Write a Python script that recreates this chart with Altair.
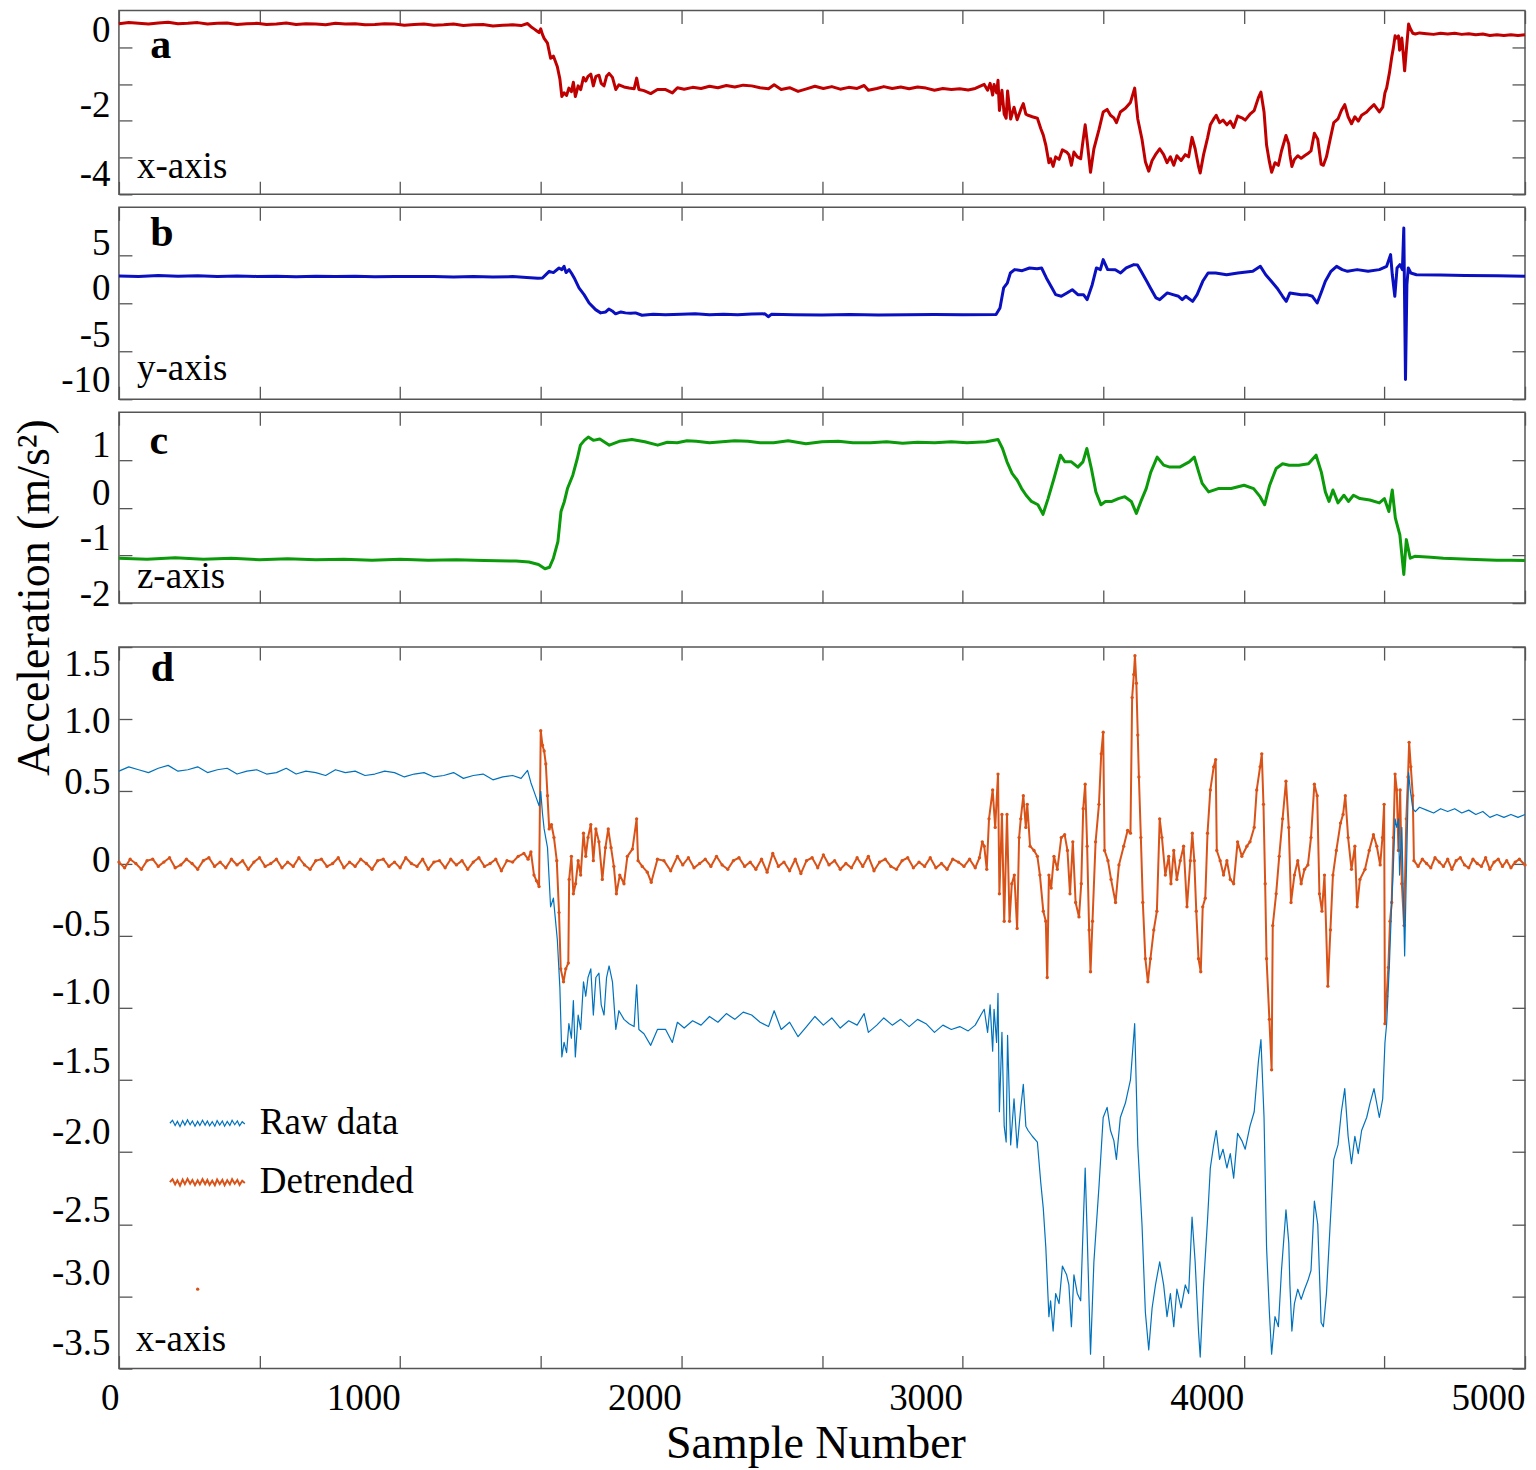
import altair as alt
import pandas as pd

FONT = "Liberation Serif"
W = 1407
TICK = "#555555"

# ---------------- data (sample number, acceleration) ----------------
RAW_X = [(0,0.64),(35,0.67),(70,0.65),(105,0.63),(140,0.66),(175,0.68),(210,0.64),(245,0.65),(280,0.67),(315,0.63),(350,0.65),(385,0.66),(420,0.62),(455,0.64),(490,0.65),(525,0.62),(560,0.63),(595,0.66),(630,0.62),(665,0.64),(700,0.63),(735,0.61),(770,0.65),(805,0.63),(840,0.64),(875,0.61),(910,0.62),(945,0.64),(980,0.63),(1015,0.60),(1050,0.62),(1085,0.63),(1120,0.60),(1155,0.61),(1190,0.63),(1225,0.59),(1260,0.61),(1295,0.62),(1330,0.58),(1365,0.60),(1400,0.61),(1430,0.59),(1453,0.645),(1465,0.56),(1476,0.50),(1485,0.45),(1494,0.40),(1500,0.50),(1506,0.35),(1512,0.24),(1524,0.11),(1535,-0.30),(1545,-0.24),(1559,-0.53),(1568,-0.86),(1575,-1.34),(1583,-1.24),(1592,-1.31),(1600,-1.11),(1609,-1.21),(1616,-0.95),(1623,-1.34),(1633,-1.05),(1642,-1.15),(1652,-0.82),(1660,-0.92),(1668,-0.79),(1678,-0.73),(1687,-1.05),(1696,-0.79),(1707,-0.76),(1715,-0.98),(1725,-1.05),(1734,-0.79),(1743,-0.71),(1755,-0.82),(1767,-1.15),(1778,-1.02),(1796,-1.08),(1814,-1.11),(1832,-1.13),(1841,-0.84),(1849,-1.15),(1867,-1.18),(1891,-1.26),(1915,-1.15),(1944,-1.15),(1968,-1.24),(1986,-1.10),
 (2010,-1.14),(2040,-1.09),(2070,-1.12),(2100,-1.06),(2130,-1.10),(2160,-1.04),(2190,-1.08),(2220,-1.03),(2250,-1.05),(2280,-1.10),(2310,-1.13),(2330,-1.02),(2355,-1.15),(2385,-1.10),(2415,-1.20),(2445,-1.13),(2475,-1.06),(2505,-1.12),(2535,-1.07),(2565,-1.14),(2595,-1.09),(2625,-1.12),(2650,-1.04),(2665,-1.17),(2695,-1.12),(2720,-1.07),(2750,-1.12),(2780,-1.08),(2810,-1.13),(2840,-1.08),(2870,-1.11),(2900,-1.17),(2930,-1.12),(2960,-1.15),(2990,-1.13),(3020,-1.16),(3045,-1.12),(3065,-1.05),
 (3077,-1.01),(3089,-1.17),(3098,-0.98),(3107,-1.30),(3112,-1.01),(3121,-1.24),(3126,-0.90),(3131,-1.72),(3140,-1.17),(3148,-1.82),(3155,-1.93),(3160,-1.19),(3171,-1.95),(3183,-1.63),(3194,-1.97),(3207,-1.69),(3216,-1.53),(3225,-1.82),(3233,-1.85),(3248,-1.89),(3266,-1.93),(3278,-2.21),(3287,-2.39),(3296,-2.66),(3307,-3.14),(3313,-3.03),(3322,-3.24),(3331,-2.98),(3343,-3.05),(3355,-2.79),(3370,-2.85),(3378,-2.92),(3387,-3.21),(3396,-2.85),(3408,-2.98),(3420,-3.03),(3428,-2.56),(3436,-2.11),(3443,-2.56),(3455,-3.40),(3467,-2.76),(3485,-2.24),(3500,-1.76),(3514,-1.69),(3526,-1.85),(3538,-1.92),(3547,-2.05),(3561,-1.76),(3579,-1.66),(3597,-1.50),(3612,-1.11),(3623,-1.95),(3638,-2.50),(3650,-3.11),(3662,-3.37),(3674,-3.08),(3686,-2.92),(3701,-2.76),(3715,-2.92),(3727,-3.14),(3739,-2.98),(3751,-3.21),(3762,-2.95),(3777,-3.08),(3792,-2.92),(3804,-2.98),(3816,-2.45),(3827,-2.76),(3839,-3.24),(3845,-3.42),(3857,-2.92),(3871,-2.47),(3881,-2.11),(3893,-1.95),(3902,-1.85),(3914,-2.05),(3926,-1.98),(3940,-2.11),(3952,-2.01),(3964,-2.18),(3978,-1.87),(3993,-1.92),(4005,-1.98),(4022,-1.82),(4037,-1.72),(4052,-1.37),(4061,-1.22),(4072,-1.76),(4081,-2.66),(4091,-3.11),(4099,-3.40),(4111,-3.14),(4123,-3.21),(4134,-2.82),(4150,-2.40),(4160,-2.63),(4164,-2.92),(4171,-3.24),(4180,-3.05),(4192,-2.95),(4204,-3.02),(4216,-2.95),(4228,-2.89),(4239,-2.82),(4251,-2.34),(4263,-2.50),(4275,-3.18),(4283,-3.21),(4294,-2.98),(4308,-2.47),(4320,-2.05),(4335,-1.95),(4347,-1.72),(4359,-1.56),(4371,-1.89),(4383,-2.08),(4395,-1.89),(4407,-2.01),(4419,-1.85),(4437,-1.76),(4449,-1.66),(4463,-1.56),(4482,-1.76),(4494,-1.63),(4502,-1.24),(4508,-1.11),(4518,-0.69),(4526,-0.27),(4532,-0.01),(4538,0.31),(4544,0.25),(4550,0.31),(4554,-0.08),(4562,0.25),(4568,-0.27),(4572,-0.64),(4578,-0.08),(4586,0.63),(4592,0.51),(4601,0.38),(4610,0.36),(4625,0.39),(4650,0.37),(4675,0.35),(4700,0.38),(4725,0.36),(4750,0.38),(4775,0.35),(4800,0.37),(4825,0.34),(4850,0.36),(4875,0.32),(4900,0.34),(4925,0.32),(4950,0.34),(4975,0.32),(5000,0.34)]

RAW_Y = [(0,2.85),(70,2.80),(140,2.90),(210,2.82),(280,2.86),(350,2.78),(420,2.84),(490,2.80),(560,2.83),(630,2.77),(700,2.82),(770,2.79),(840,2.81),(910,2.76),(980,2.80),(1050,2.78),(1120,2.80),(1190,2.75),(1260,2.78),(1330,2.74),(1400,2.78),(1450,2.70),(1490,2.62),(1506,2.64),(1530,3.33),(1545,3.20),(1565,3.68),(1575,3.50),(1583,3.85),(1590,3.20),(1601,3.50),(1610,3.10),(1619,2.64),(1636,1.60),(1654,0.90),(1672,0.03),(1695,-0.66),(1713,-1.00),(1731,-0.90),(1742,-0.60),(1754,-0.80),(1766,-1.10),(1785,-0.90),(1801,-1.00),(1820,-1.05),(1837,-1.00),(1860,-1.25),(1900,-1.15),(1943,-1.20),(2000,-1.15),(2049,-1.10),(2100,-1.20),(2150,-1.15),(2200,-1.20),(2250,-1.12),(2297,-1.10),(2309,-1.40),(2320,-1.15),(2400,-1.20),(2500,-1.22),(2600,-1.18),(2700,-1.22),(2800,-1.20),(2900,-1.18),(3000,-1.20),(3119,-1.18),(3133,-0.49),(3146,1.60),(3159,2.10),(3170,3.16),(3185,3.51),(3212,3.40),(3238,3.68),(3265,3.60),(3281,3.68),(3298,2.64),(3318,1.60),(3331,0.90),(3351,0.73),(3371,1.08),(3390,1.42),(3410,0.90),(3430,0.90),(3443,0.38),(3461,1.94),(3476,3.68),(3490,3.50),(3500,4.55),(3516,3.51),(3543,3.50),(3562,3.16),(3582,3.68),(3609,4.03),(3622,4.00),(3635,3.33),(3655,2.29),(3668,1.60),(3688,0.56),(3701,0.38),(3728,1.08),(3748,0.90),(3768,0.73),(3781,0.38),(3794,0.73),(3818,0.20),(3834,0.90),(3854,2.29),(3873,3.16),(3900,3.16),(3939,2.98),(3979,3.16),(4032,3.33),(4059,3.85),(4078,2.98),(4098,2.29),(4118,1.60),(4138,0.73),(4151,0.20),(4164,1.08),(4204,0.90),(4224,0.90),(4244,0.73),(4261,0.03),(4277,1.25),(4290,2.29),(4310,3.33),(4330,3.85),(4350,3.51),(4369,3.33),(4403,3.51),(4442,3.33),(4482,3.51),(4508,3.85),(4522,5.07),(4528,3.00),(4537,0.73),(4545,3.68),(4555,4.03),(4564,3.51),(4569,7.85),(4575,-7.95),(4580,1.94),(4585,3.68),(4594,3.16),(4614,2.98),(4700,2.95),(4786,2.90),(4900,2.88),(5000,2.81)]

RAW_Z = [(0,-1.06),(100,-1.08),(200,-1.05),(300,-1.08),(400,-1.06),(500,-1.09),(600,-1.07),(700,-1.09),(800,-1.08),(900,-1.10),(1000,-1.08),(1100,-1.10),(1200,-1.09),(1300,-1.11),(1412,-1.12),(1458,-1.14),(1492,-1.19),(1515,-1.28),(1531,-1.25),(1545,-1.06),(1561,-0.71),(1572,-0.08),(1584,0.13),(1595,0.40),(1614,0.68),(1630,1.03),(1641,1.31),(1655,1.41),(1669,1.48),(1687,1.41),(1710,1.44),(1744,1.31),(1779,1.39),(1824,1.43),(1870,1.38),(1916,1.31),(1950,1.37),(1985,1.36),(2020,1.40),(2053,1.39),(2100,1.36),(2145,1.38),(2190,1.40),(2237,1.39),(2280,1.36),(2328,1.36),(2380,1.40),(2443,1.34),(2500,1.38),(2558,1.39),(2610,1.36),(2672,1.36),(2730,1.38),(2787,1.35),(2840,1.37),(2901,1.36),(2960,1.38),(3016,1.36),(3084,1.38),(3126,1.43),(3142,1.24),(3158,0.96),(3176,0.72),(3194,0.58),(3210,0.40),(3226,0.26),(3245,0.13),(3268,0.06),(3286,-0.14),(3304,0.19),(3325,0.61),(3348,1.10),(3364,0.96),(3387,0.96),(3410,0.85),(3428,0.96),(3442,1.24),(3458,0.82),(3474,0.33),(3492,0.06),(3508,0.13),(3531,0.13),(3554,0.19),(3577,0.23),(3600,0.13),(3618,-0.12),(3634,0.13),(3653,0.40),(3669,0.74),(3692,1.06),(3715,0.89),(3737,0.85),(3772,0.85),(3806,0.96),(3824,1.06),(3840,0.74),(3852,0.51),(3875,0.33),(3909,0.40),(3955,0.40),(4001,0.47),(4035,0.40),(4058,0.23),(4074,0.06),(4092,0.47),(4115,0.82),(4138,0.92),(4161,0.89),(4196,0.89),(4230,0.92),(4257,1.10),(4276,0.74),(4290,0.33),(4303,0.13),(4317,0.37),(4335,0.10),(4356,0.26),(4372,0.13),(4390,0.26),(4413,0.19),(4448,0.16),(4482,0.10),(4500,0.19),(4516,-0.08),(4528,0.37),(4539,-0.22),(4555,-0.57),(4569,-1.40),(4578,-0.67),(4592,-1.06),(4608,-1.02),(4665,-1.04),(4710,-1.06),(4757,-1.07),(4800,-1.08),(4849,-1.09),(4900,-1.10),(4950,-1.10),(5000,-1.11)]

DETRENDED_X = [(0,0.01),(20,-0.03),(40,0.03),(60,0.00),(80,-0.04),(100,0.02),(120,0.03),(140,-0.02),(160,0.01),(180,0.04),(200,-0.03),(220,-0.01),(240,0.03),(260,0.00),(280,-0.04),(300,0.02),(320,0.04),(340,-0.02),(360,0.01),(380,-0.03),(400,0.03),(420,-0.01),(440,0.02),(460,-0.04),(480,0.01),(500,0.04),(520,-0.02),(540,0.00),(560,0.03),(580,-0.03),(600,0.01),(620,-0.02),(640,0.04),(660,-0.01),(680,-0.04),(700,0.02),(720,0.03),(740,-0.02),(760,0.00),(780,0.04),(800,-0.03),(820,0.01),(840,-0.02),(860,0.03),(880,0.00),(900,-0.04),(920,0.02),(940,0.03),(960,-0.02),(980,0.01),(1000,-0.03),(1020,0.04),(1040,0.00),(1060,-0.02),(1080,0.03),(1100,-0.04),(1120,0.01),(1140,0.02),(1160,-0.03),(1180,0.03),(1200,-0.01),(1220,0.02),(1240,-0.04),(1260,0.01),(1280,0.04),(1300,-0.02),(1320,0.00),(1340,0.03),(1360,-0.05),(1380,0.02),(1400,0.01),(1420,0.05),(1440,0.07),(1455,0.03),(1465,0.08),(1476,-0.08),(1485,-0.12),(1494,-0.16),(1500,0.92),(1506,0.82),(1512,0.78),(1518,0.69),(1524,0.47),(1530,0.24),(1538,0.27),(1547,0.18),(1557,0.02),(1565,-0.34),(1571,-0.73),(1581,-0.82),(1589,-0.73),(1598,-0.69),(1601,-0.11),(1609,0.05),(1616,-0.21),(1624,-0.14),(1633,0.02),(1642,-0.08),(1652,0.21),(1660,0.05),(1668,0.18),(1678,0.27),(1687,0.02),(1696,0.24),(1707,0.15),(1719,-0.11),(1730,0.11),(1740,0.24),(1750,0.11),(1760,-0.02),(1769,-0.21),(1781,-0.08),(1796,-0.14),(1808,0.05),(1826,0.10),(1841,0.31),(1846,0.02),(1861,-0.02),(1879,-0.06),(1893,-0.13),(1915,0.03),(1938,0.02),(1962,-0.05),(1986,0.05),
 (2005,-0.01),(2025,0.04),(2045,-0.03),(2065,0.00),(2085,0.03),(2105,-0.02),(2125,0.05),(2145,-0.01),(2165,-0.04),(2185,0.02),(2205,0.04),(2225,-0.02),(2245,0.01),(2265,-0.04),(2285,0.03),(2305,-0.06),(2325,0.07),(2345,-0.02),(2365,0.01),(2385,-0.05),(2405,0.03),(2425,-0.07),(2445,0.02),(2465,0.04),(2485,-0.03),(2505,0.06),(2525,-0.01),(2545,0.02),(2565,-0.04),(2585,0.00),(2605,-0.03),(2625,0.04),(2645,-0.02),(2665,0.05),(2685,-0.05),(2705,0.01),(2725,0.03),(2745,-0.02),(2765,-0.04),(2785,0.02),(2805,0.04),(2825,-0.03),(2845,0.01),(2865,-0.02),(2885,0.04),(2905,-0.03),(2925,0.00),(2945,-0.04),(2965,0.03),(2985,0.01),(3005,-0.02),(3025,0.03),(3045,-0.03),(3060,0.04),(3070,0.15),
 (3077,0.12),(3086,-0.04),(3094,0.31),(3107,0.51),(3116,0.25),(3126,0.62),(3131,-0.21),(3140,0.34),(3148,-0.40),(3158,0.34),(3167,-0.40),(3175,-0.14),(3184,-0.08),(3194,-0.45),(3201,0.18),(3207,0.31),(3216,0.47),(3225,0.25),(3230,0.41),(3240,0.12),(3254,0.09),(3266,0.05),(3275,-0.08),(3287,-0.33),(3296,-0.40),(3301,-0.79),(3307,-0.08),(3315,-0.17),(3325,0.05),(3337,-0.04),(3351,0.18),(3363,0.20),(3373,0.09),(3382,-0.21),(3392,0.15),(3402,-0.27),(3414,-0.37),(3422,-0.14),(3429,0.38),(3436,0.55),(3443,0.12),(3450,-0.46),(3455,-0.75),(3462,-0.40),(3473,0.15),(3485,0.41),(3493,0.76),(3500,0.91),(3505,0.09),(3517,0.02),(3528,-0.11),(3544,-0.27),(3556,-0.01),(3573,0.12),(3587,0.23),(3597,0.21),(3603,1.15),(3609,1.31),(3613,1.44),(3618,1.25),(3623,0.89),(3627,0.60),(3634,0.18),(3641,-0.27),(3650,-0.66),(3659,-0.82),(3668,-0.66),(3680,-0.46),(3691,-0.33),(3701,0.31),(3709,0.18),(3721,-0.08),(3733,0.05),(3741,-0.14),(3751,0.09),(3762,-0.11),(3774,0.02),(3786,0.12),(3798,-0.30),(3810,0.02),(3817,0.21),(3824,0.02),(3831,-0.33),(3839,-0.66),(3847,-0.75),(3854,-0.30),(3863,-0.24),(3871,0.21),(3881,0.51),(3893,0.67),(3900,0.72),(3904,0.09),(3916,0.02),(3928,-0.08),(3940,0.02),(3952,-0.11),(3964,-0.14),(3978,0.15),(3993,0.05),(4011,0.12),(4022,0.15),(4037,0.25),(4046,0.51),(4058,0.67),(4064,0.76),(4070,0.41),(4076,-0.14),(4081,-0.66),(4091,-1.08),(4099,-1.43),(4103,-0.43),(4115,-0.21),(4126,0.05),(4138,0.31),(4150,0.57),(4160,0.25),(4168,-0.27),(4180,-0.08),(4192,0.02),(4204,-0.14),(4216,-0.04),(4228,-0.01),(4239,0.18),(4251,0.55),(4261,0.47),(4269,-0.21),(4278,-0.33),(4287,-0.08),(4299,-0.85),(4308,-0.46),(4317,-0.08),(4329,0.09),(4344,0.28),(4353,0.34),(4361,0.47),(4371,0.18),(4383,-0.04),(4395,0.12),(4403,-0.30),(4413,-0.11),(4431,-0.04),(4446,0.09),(4461,0.20),(4473,0.12),(4485,-0.01),(4493,0.18),(4499,0.41),(4502,-1.11),(4508,-0.92),(4514,-0.72),(4520,-0.40),(4526,-0.27),(4532,0.18),(4538,0.62),(4544,0.51),(4550,0.09),(4556,0.51),(4562,-0.14),(4570,-0.43),(4578,0.31),(4584,0.60),(4588,0.84),(4594,0.67),(4601,0.47),(4605,0.02),
 (4620,-0.02),(4635,0.03),(4650,0.00),(4665,-0.03),(4680,0.04),(4695,0.01),(4710,-0.02),(4725,0.03),(4740,-0.04),(4755,0.02),(4770,0.04),(4785,-0.01),(4800,-0.03),(4815,0.03),(4830,0.00),(4845,-0.02),(4860,0.04),(4875,-0.04),(4890,0.01),(4905,0.03),(4920,-0.02),(4935,0.02),(4950,-0.03),(4965,0.01),(4980,0.03),(5000,-0.01)]

STRAY_DOT = [(280, -2.95)]

SERIES = ["Raw data", "Detrended"]
X_TICKS = [0, 500, 1000, 1500, 2000, 2500, 3000, 3500, 4000, 4500, 5000]
A_TICKS = [-4, -3, -2, -1, 0]
B_TICKS = [-10, -5, 0, 5]
C_TICKS = [-2, -1, 0, 1]
D_TICKS = [-3.5, -3.0, -2.5, -2.0, -1.5, -1.0, -0.5, 0.0, 0.5, 1.0, 1.5]

RED, BLUE_Y, GREEN = "#C00000", "#0A10C0", "#0A9A0A"
BLUE, ORANGE = "#0072BD", "#D95319"


def frame(pairs):
    return pd.DataFrame({"s": [p[0] for p in pairs], "v": [p[1] for p in pairs]})


XS = alt.Scale(domain=[0, 5000], nice=False, zero=False)


def x_bottom(labels=False):
    kw = dict(orient="bottom", values=X_TICKS, offset=-13, tickSize=13, tickColor=TICK,
              tickWidth=1.3, domain=False, grid=False, title=None)
    if labels:
        kw.update(labelExpr="datum.value % 1000 == 0 ? format(datum.value, 'd') : ''",
                  labelFont=FONT, labelFontSize=37, labelColor="black", labelAlign="right",
                  labelBaseline="top", labelPadding=12, labelOffset=0,
                  title="Sample Number", titleFont=FONT, titleFontSize=46,
                  titleFontWeight="normal", titleColor="black", titleX=697, titleY=102,
                  titleAlign="center", titleBaseline="alphabetic")
    else:
        kw.update(labels=False)
    return alt.Axis(**kw)


def x_top():
    return alt.Axis(orient="top", values=X_TICKS, offset=-13, tickSize=13, tickColor=TICK,
                    tickWidth=1.3, domain=False, grid=False, labels=False, title=None)


def y_left(values, expr, offset, extra=None):
    kw = dict(orient="left", values=values, offset=-13, tickSize=13, tickColor=TICK,
              tickWidth=1.3, domain=False, grid=False, labelExpr=expr, labelFont=FONT,
              labelFontSize=37, labelColor="black", labelPadding=9, labelOffset=offset,
              title=None)
    if extra:
        kw.update(extra)
    return alt.Axis(**kw)


def y_right(values):
    return alt.Axis(orient="right", values=values, offset=-13, tickSize=13, tickColor=TICK,
                    tickWidth=1.3, domain=False, grid=False, labels=False, title=None)


def cond(default, special):
    return {"condition": [{"test": f"datum.value == {k}", "value": v} for k, v in special],
            "value": default}


def notes(ys, letter, lpos, name, npos):
    t1 = alt.Chart(pd.DataFrame({"s": [lpos[0]], "v": [lpos[1]], "t": [letter]})).mark_text(
        font=FONT, fontSize=42, fontWeight="bold", align="center", baseline="alphabetic",
        color="black").encode(x=alt.X("s:Q", scale=XS, axis=None),
                              y=alt.Y("v:Q", scale=ys, axis=None), text="t:N")
    t2 = alt.Chart(pd.DataFrame({"s": [npos[0]], "v": [npos[1]], "t": [name]})).mark_text(
        font=FONT, fontSize=37, align="left", baseline="alphabetic",
        color="black").encode(x=alt.X("s:Q", scale=XS, axis=None),
                              y=alt.Y("v:Q", scale=ys, axis=None), text="t:N")
    return [t1, t2]


def small_panel(pairs, color, dom, ticks, expr, offset, h, letter, lpos, name, npos):
    df = frame(pairs)
    ys = alt.Scale(domain=dom, nice=False, zero=False)
    main = alt.Chart(df).mark_line(color=color, strokeWidth=3, strokeJoin="round").encode(
        x=alt.X("s:Q", scale=XS, axis=x_bottom(False)),
        y=alt.Y("v:Q", scale=ys, axis=y_left(ticks, expr, offset)))
    mirror = alt.Chart(df).mark_line(opacity=0).encode(
        x=alt.X("s:Q", scale=XS, axis=x_top()),
        y=alt.Y("v:Q", scale=ys, axis=y_right(ticks)))
    return alt.layer(main, mirror, *notes(ys, letter, lpos, name, npos)).resolve_axis(
        x="independent", y="independent").properties(width=W, height=h)


INT_EXPR = "(datum.value < 0 ? '-' : '') + format(abs(datum.value), 'd')"

pa = small_panel(RAW_X, RED, [-4, 1], A_TICKS,
                 "datum.value % 2 == 0 ? " + INT_EXPR + " : ''",
                 cond(-15, [(0, -17), (-4, -20)]), 184, "a", (149, -0.30), "x-axis", (64, -3.565))
pb = small_panel(RAW_Y, BLUE_Y, [-10, 10], B_TICKS, INT_EXPR,
                 cond(-15, [(5, -12), (-5, -16), (-10, -19)]), 192, "b", (153, 5.94),
                 "y-axis", (64, -8.02))
pc = small_panel(RAW_Z, GREEN, [-2, 2], C_TICKS, INT_EXPR,
                 cond(-14, [(-1, -17), (-2, -9)]), 191, "c", (142, 1.12), "z-axis", (64, -1.686))

spacer = alt.Chart(pd.DataFrame({"s": [0], "v": [0]})).mark_point(opacity=0).encode(
    x=alt.X("s:Q", axis=None), y=alt.Y("v:Q", axis=None)).properties(
    width=W, height=18, view=alt.ViewBackground(stroke=None))

# ---------------- panel d ----------------
raw_df = frame(RAW_X).assign(series=SERIES[0])
det_df = frame(DETRENDED_X).assign(series=SERIES[1])
lines_df = pd.concat([det_df, raw_df], ignore_index=True)
YD = alt.Scale(domain=[-3.5, 1.5], nice=False, zero=False)

JAG = ("M-1,0L-0.93,-0.08L-0.86,0.06L-0.8,-0.05L-0.73,0.09L-0.66,-0.07L-0.6,0.05L-0.53,-0.09"
       "L-0.46,0.04L-0.4,-0.06L-0.33,0.08L-0.26,-0.05L-0.2,0.06L-0.13,-0.08L-0.06,0.05L0,-0.06"
       "L0.06,0.07L0.13,-0.04L0.2,0.08L0.26,-0.07L0.33,0.05L0.4,-0.06L0.46,0.08L0.53,-0.05"
       "L0.6,0.06L0.66,-0.08L0.73,0.04L0.8,-0.06L0.86,0.07L0.93,-0.04L1,0.02")
LEG = alt.Legend(title=None, orient="none", legendX=50, legendY=1075, direction="vertical",
                 symbolType=JAG, symbolSize=5625, symbolFillColor="transparent",
                 labelFont=FONT, labelFontSize=37, labelColor="black", labelOffset=14,
                 rowPadding=2)

D_EXPR = ("datum.value == 0 ? '0' : (datum.value < 0 ? '-' : '') + "
          "format(abs(datum.value), '.1f')")
D_OFF = cond(-12, [(1.5, 17), (1.0, 2), (0.5, -9), (0, -3), (-0.5, -11), (-1.0, -15),
                   (-1.5, -18), (-2.0, -20), (-2.5, -14), (-3.0, -23), (-3.5, -25)])
YD_AXIS = y_left(D_TICKS, D_EXPR, D_OFF, dict(
    title="Acceleration (m/s²)", titleFont=FONT, titleFontSize=46, titleFontWeight="normal",
    titleColor="black", titleAngle=270, titleX=-83, titleY=-50, titleAlign="center",
    titleBaseline="alphabetic"))

dots = alt.Chart(det_df).mark_point(filled=True, color=ORANGE, size=11, opacity=1).encode(
    x=alt.X("s:Q", scale=XS, axis=None), y=alt.Y("v:Q", scale=YD, axis=None))
stray = alt.Chart(frame(STRAY_DOT)).mark_point(filled=True, color=ORANGE, size=11, opacity=1).encode(
    x=alt.X("s:Q", scale=XS, axis=None), y=alt.Y("v:Q", scale=YD, axis=None))
lines = alt.Chart(lines_df).mark_line(strokeJoin="round").encode(
    x=alt.X("s:Q", scale=XS, axis=x_bottom(True)),
    y=alt.Y("v:Q", scale=YD, axis=YD_AXIS),
    color=alt.Color("series:N", scale=alt.Scale(domain=SERIES, range=[BLUE, ORANGE]), legend=LEG),
    strokeWidth=alt.StrokeWidth("series:N", scale=alt.Scale(domain=SERIES, range=[1.2, 2.0]),
                                legend=LEG),
    order=alt.Order("s:Q"))
mirror_d = alt.Chart(raw_df).mark_line(opacity=0).encode(
    x=alt.X("s:Q", scale=XS, axis=x_top()),
    y=alt.Y("v:Q", scale=YD, axis=y_right(D_TICKS)))

pd_ = alt.layer(dots, lines, stray, mirror_d, *notes(YD, "d", (155, 1.265), "x-axis", (60, -3.38))
                ).resolve_axis(x="independent", y="independent").properties(width=W, height=722)

chart = alt.vconcat(pa, pb, pc, spacer, pd_, spacing=13, bounds="flush").properties(
    padding={"left": 3, "top": 0, "right": 0, "bottom": 0}).configure_view(
    stroke="#555555", strokeWidth=1.5)

chart.save("out.html", embed_options={"renderer": "svg", "actions": False})
